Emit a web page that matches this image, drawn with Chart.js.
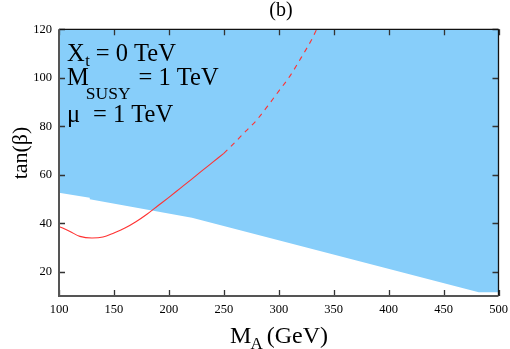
<!DOCTYPE html>
<html>
<head>
<meta charset="utf-8">
<script src="https://cdn.jsdelivr.net/npm/chart.js@4/dist/chart.umd.min.js"></script>
<style>
html,body{margin:0;padding:0;background:#fff;}
#wrap{width:510px;height:349px;}
</style>
</head>
<body>
<div id="wrap"><canvas id="c" width="510" height="349"></canvas></div>
<script>
// Lower edge of the excluded (blue) region
const bandX = [100, 128, 128, 221, 482, 500];
const bandY = [52.6, 50.5, 49.9, 42.3, 11.5, 11.5];
// Red curve, solid part
const solidX = [100, 110, 119, 130, 140, 150, 160, 170, 180, 190, 200, 210, 220, 230, 240, 250];
const solidY = [38.7, 36.6, 34.6, 33.9, 34.3, 36.0, 38.0, 40.6, 43.7, 47.2, 50.7, 54.3, 57.9, 61.6, 65.2, 68.8];
// Red curve, dashed part
const dashX = [250, 260, 270, 280, 290, 300, 310, 320, 330, 334.5];
const dashY = [68.8, 73.3, 78.0, 82.6, 88.4, 94.5, 100.6, 108.0, 115.8, 120];
// Tick values
const xTicks = [100, 150, 200, 250, 300, 350, 400, 450, 500];
const yTicks = [20, 40, 60, 80, 100, 120];

const SERIF = '"Liberation Serif", "DejaVu Serif", serif';
const toPts = (xs, ys) => xs.map((x, i) => ({x: x, y: ys[i]}));

const decor = {
  id: 'decor',
  afterDraw(chart) {
    const ctx = chart.ctx;
    const a = chart.chartArea;
    const xs = chart.scales.x, ys = chart.scales.y;
    ctx.save();
    // inward ticks
    ctx.strokeStyle = '#333';
    ctx.lineWidth = 1.3;
    ctx.beginPath();
    xTicks.forEach(v => {
      const p = Math.round(xs.getPixelForValue(v)) + 0.5;
      ctx.moveTo(p, a.bottom); ctx.lineTo(p, a.bottom - 6);
      ctx.moveTo(p, a.top); ctx.lineTo(p, a.top + 6);
    });
    yTicks.forEach(v => {
      const p = Math.round(ys.getPixelForValue(v)) + 0.5;
      ctx.moveTo(a.left, p); ctx.lineTo(a.left + 6, p);
      ctx.moveTo(a.right, p); ctx.lineTo(a.right - 6, p);
    });
    ctx.stroke();
    // frame
    ctx.strokeStyle = '#111';
    ctx.lineWidth = 1.3;
    ctx.beginPath();
    ctx.moveTo(a.left, a.top); ctx.lineTo(a.right, a.top);
    ctx.moveTo(a.right, a.top); ctx.lineTo(a.right, a.bottom);
    ctx.stroke();
    ctx.strokeStyle = '#555';
    ctx.lineWidth = 2;
    ctx.beginPath();
    ctx.moveTo(a.left, a.top); ctx.lineTo(a.left, a.bottom);
    ctx.lineTo(a.right, a.bottom);
    ctx.stroke();

    // texts
    ctx.fillStyle = '#000';
    ctx.textBaseline = 'alphabetic';
    ctx.textAlign = 'left';
    const big = '24.5px ' + SERIF, sub = '17.5px ' + SERIF;
    const L = a.left + 8;
    // line 1: X_t = 0 TeV
    ctx.font = big;
    ctx.fillText('X', L, 61);
    let w = ctx.measureText('X').width;
    ctx.font = '16.5px ' + SERIF;
    ctx.fillText('t', L + w + 0.5, 65.5);
    let w2 = ctx.measureText('t').width;
    ctx.font = big;
    ctx.fillText('= 0 TeV', L + w + w2 + 6.5, 61);
    // line 2: M_SUSY = 1 TeV
    ctx.fillText('M', L, 85);
    w = ctx.measureText('M').width;
    ctx.font = sub;
    ctx.fillText('SUSY', L + w - 3, 98.5);
    w2 = ctx.measureText('SUSY').width;
    ctx.font = big;
    ctx.fillText('= 1 TeV', L + w - 3 + w2 + 8, 85);
    // line 3: mu = 1 TeV
    ctx.fillText('\u03bc', L, 122);
    ctx.fillText('= 1 TeV', L + 26, 122);

    // title
    ctx.font = '20px ' + SERIF;
    ctx.textAlign = 'center';
    ctx.fillText('(b)', 281, 16);

    // x-axis title M_A (GeV)
    ctx.textAlign = 'left';
    ctx.font = '24px ' + SERIF;
    const mW = ctx.measureText('M').width;
    ctx.font = '17px ' + SERIF;
    const aW = ctx.measureText('A').width;
    ctx.font = '24px ' + SERIF;
    const gW = ctx.measureText('(GeV)').width;
    const total = mW + aW + 3 + gW;
    const x0 = 279 - total / 2;
    ctx.fillText('M', x0, 343);
    ctx.font = '17px ' + SERIF;
    ctx.fillText('A', x0 + mW - 1, 349);
    ctx.font = '24px ' + SERIF;
    ctx.fillText('(GeV)', x0 + mW + aW + 3, 343);

    // y-axis title tan(beta)
    ctx.save();
    ctx.translate(27, 153);
    ctx.rotate(-Math.PI / 2);
    ctx.font = '22px ' + SERIF;
    ctx.textAlign = 'center';
    ctx.fillText('tan(\u03b2)', 0, 0);
    ctx.restore();

    ctx.restore();
  }
};

new Chart(document.getElementById('c'), {
  type: 'line',
  data: {
    datasets: [
      {
        data: toPts(solidX, solidY),
        borderColor: 'rgb(255,50,50)',
        borderWidth: 1.1,
        pointRadius: 0,
        fill: false,
        cubicInterpolationMode: 'monotone',
        order: 0
      },
      {
        data: toPts(dashX, dashY),
        borderColor: 'rgb(255,50,50)',
        borderWidth: 1.1,
        borderDash: [5, 5],
        pointRadius: 0,
        fill: false,
        cubicInterpolationMode: 'monotone',
        order: 0
      },
      {
        data: toPts(bandX, bandY),
        borderWidth: 0,
        borderColor: 'rgba(0,0,0,0)',
        backgroundColor: '#87cefa',
        pointRadius: 0,
        fill: 'end',
        tension: 0,
        order: 1
      }
    ]
  },
  options: {
    responsive: false,
    animation: false,
    devicePixelRatio: 1,
    layout: {padding: {top: 29.3, right: 11.5, left: 0, bottom: 0}},
    plugins: {legend: {display: false}, tooltip: {enabled: false}, title: {display: false}},
    scales: {
      x: {
        type: 'linear',
        min: 100, max: 500,
        afterBuildTicks: s => { s.ticks = xTicks.map(v => ({value: v})); },
        afterFit: s => { s.height = 53; s.paddingLeft = 0; s.paddingRight = 0; },
        grid: {display: false, drawTicks: false},
        border: {display: false},
        ticks: {color: '#000', font: {family: SERIF, size: 12.5}, padding: 6, maxRotation: 0}
      },
      y: {
        type: 'linear',
        min: 10, max: 120,
        afterBuildTicks: s => { s.ticks = yTicks.map(v => ({value: v})); },
        afterFit: s => { s.width = 59; s.paddingTop = 0; s.paddingBottom = 0; },
        grid: {display: false, drawTicks: false},
        border: {display: false},
        ticks: {color: '#000', font: {family: SERIF, size: 12.5}, padding: 7}
      }
    }
  },
  plugins: [decor]
});
</script>
</body>
</html>
